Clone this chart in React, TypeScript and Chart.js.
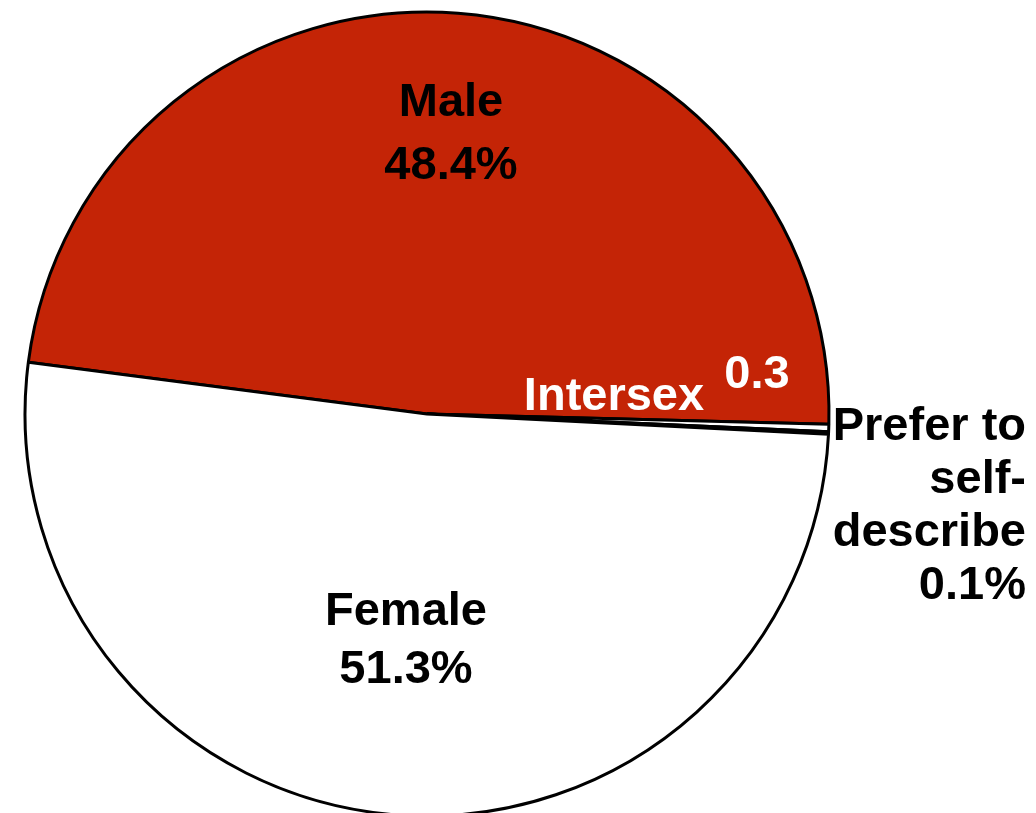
import React, { useEffect, useRef } from "react";
import { Chart, registerables } from "chart.js";

Chart.register(...registerables);

const categories = ["Male", "Intersex", "Prefer to self-describe", "Female"];
const values = [48.4, 0.3, 0.1, 51.3];
const sliceColors = ["#C42406", "#FFFFFF", "#FFFFFF", "#FFFFFF"];
const valueLabels = ["48.4%", "0.3", "0.1%", "51.3%"];

const FONT = "bold 47px 'Liberation Sans', Arial, Helvetica, sans-serif";

const labelPlugin = {
  id: "sliceLabels",
  afterDatasetsDraw(chart: any) {
    const ctx = chart.ctx;
    const arc = chart.getDatasetMeta(0).data[0];
    if (!arc) return;
    const cx = arc.x;
    const cy = arc.y;
    ctx.save();
    ctx.font = FONT;
    ctx.textBaseline = "middle";
    ctx.textAlign = "center";
    // Male
    ctx.fillStyle = "#000000";
    ctx.fillText(categories[0], cx + 24, cy - 311);
    ctx.fillText(valueLabels[0], cx + 24, cy - 248);
    // Female
    ctx.fillText(categories[3], cx - 21, cy + 198);
    ctx.fillText(valueLabels[3], cx - 21, cy + 256);
    // Intersex
    ctx.fillStyle = "#FFFFFF";
    ctx.fillText(categories[1], cx + 187, cy - 17);
    ctx.fillText(valueLabels[1], cx + 330, cy - 39);
    // Prefer to self-describe
    ctx.fillStyle = "#000000";
    ctx.textAlign = "right";
    const lines = ["Prefer to", "self-", "describe", valueLabels[2]];
    lines.forEach((t, i) => ctx.fillText(t, cx + 599, cy + 13 + i * 53));
    ctx.restore();
  },
};

export default function App() {
  const ref = useRef<HTMLCanvasElement>(null);
  useEffect(() => {
    document.body.style.margin = "0";
    const chart = new Chart(ref.current as HTMLCanvasElement, {
      type: "pie",
      data: {
        labels: categories,
        datasets: [
          {
            data: values,
            backgroundColor: sliceColors,
            borderColor: "#000000",
            borderWidth: 3,
          },
        ],
      },
      options: {
        animation: false,
        responsive: false,
        rotation: 277.4,
        radius: 402,
        layout: { padding: { left: 0, right: 182, top: 15, bottom: 0 } },
        plugins: { legend: { display: false }, tooltip: { enabled: false } },
      },
      plugins: [labelPlugin],
    });
    return () => chart.destroy();
  }, []);
  return (
    <div style={{ width: 1036, height: 813, background: "#fff" }}>
      <canvas ref={ref} width={1036} height={813} />
    </div>
  );
}
